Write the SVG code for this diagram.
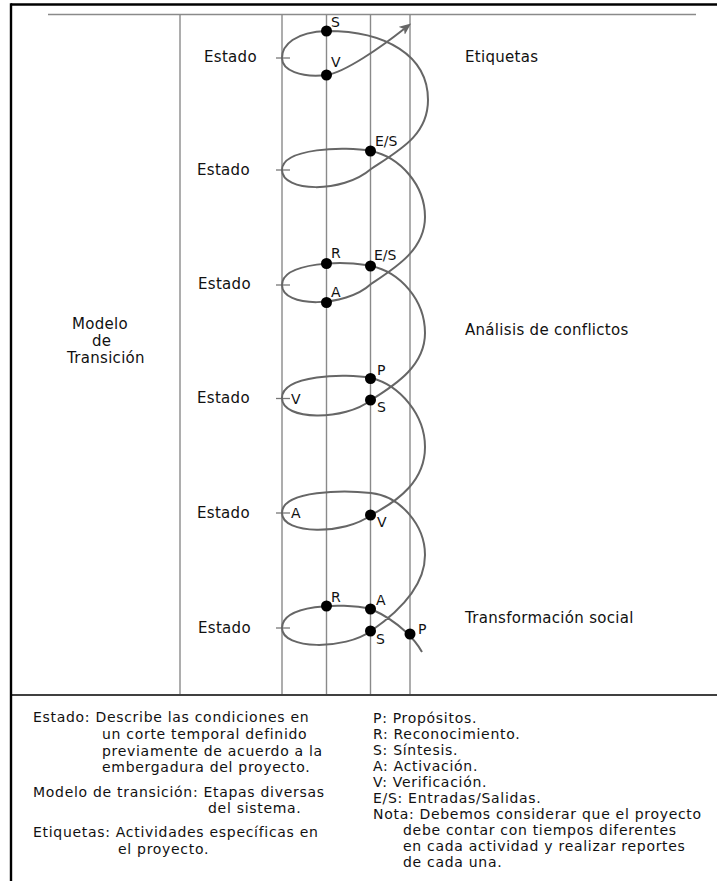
<svg xmlns="http://www.w3.org/2000/svg" width="717" height="881" viewBox="0 0 717 881">
  <style>
    text { font-family: "DejaVu Sans", "Liberation Sans", sans-serif; fill: #111; }
    .lbl { font-size: 15px; letter-spacing: 0.3px; }
    .pt { font-size: 14px; }
    .leg { font-size: 14px; letter-spacing: 0.7px; }
    .frame { stroke: #000; fill: none; }
    .grid { stroke: #8a8a8a; stroke-width: 1.4; fill: none; }
    .tick { stroke: #777; stroke-width: 1.3; }
    .spiral { stroke: #666; stroke-width: 2; fill: none; }
    .dot { fill: #000; }
  </style>
  <defs>
    <marker id="arrow" viewBox="0 0 12 10" refX="3" refY="5" markerWidth="12" markerHeight="10" markerUnits="userSpaceOnUse" orient="auto">
      <path d="M0,0 L12,5 L0,10 L3,5 z" fill="#666"/>
    </marker>
  </defs>

  <rect width="717" height="881" fill="#fff"/>

  <!-- outer frame and legend divider -->
  <g id="frame">
    <line class="frame" x1="11" y1="4.5" x2="717" y2="4.5" stroke-width="2.4"/>
    <line class="frame" x1="11" y1="3.3" x2="11" y2="881" stroke-width="2.4"/>
    <line class="frame" x1="11" y1="695" x2="717" y2="695" stroke-width="1.6"/>
  </g>

  <!-- guide grid -->
  <g id="grid">
    <line class="grid" x1="48" y1="14.5" x2="696" y2="14.5"/>
    <line class="grid" x1="180" y1="14" x2="180" y2="694"/>
    <line class="grid" x1="282" y1="14" x2="282" y2="694"/>
    <line class="grid" x1="326.5" y1="14" x2="326.5" y2="694"/>
    <line class="grid" x1="370.5" y1="14" x2="370.5" y2="694"/>
    <line class="grid" x1="410" y1="14" x2="410" y2="694"/>
  </g>

  <!-- state ticks on the left edge of each loop -->
  <g id="ticks">
    <line class="tick" x1="276" y1="58" x2="290" y2="58"/>
    <line class="tick" x1="276" y1="170" x2="290" y2="170"/>
    <line class="tick" x1="276" y1="285" x2="290" y2="285"/>
    <line class="tick" x1="276" y1="398.5" x2="290" y2="398.5"/>
    <line class="tick" x1="276" y1="513" x2="290" y2="513"/>
    <line class="tick" x1="276" y1="628" x2="290" y2="628"/>
  </g>

  <!-- helix connector, rising from the bottom to the arrow -->
  <g id="connectors">
    <path class="spiral" marker-end="url(#arrow)" d="M 422,652
      C 416,641 400,622 371,609
      C 340,602 282,605 282,628
      C 282,650 345,650 371,631
      C 400,611 425,585 425,555
      C 425,525 400,496 371,493
      C 345,490 282,490 282,513
      C 282,535 345,535 371,515
      C 400,500 425,480 425,447
      C 425,415 400,385 371,378
      C 345,373 282,375 282,398
      C 282,421 345,421 371,400
      C 397,384 425,365 425,333
      C 425,300 400,272 371,266
      C 345,260 282,262 282,285
      C 282,308 345,308 371,284
      C 395,268 425,250 425,217
      C 425,185 400,157 371,151
      C 345,146 282,148 282,170
      C 282,192 342,194 371,169
      C 400,150 428,135 428,100
      C 428,55 385,31 327,31
      C 295,32 282,45 282,58
      C 282,70 300,78 327,75
      C 345,72 380,48 404,29"/>
  </g>

  <!-- state labels -->
  <g id="estados">
    <text class="lbl" x="204" y="62">Estado</text>
    <text class="lbl" x="197" y="175">Estado</text>
    <text class="lbl" x="198" y="289">Estado</text>
    <text class="lbl" x="197" y="403">Estado</text>
    <text class="lbl" x="197" y="518">Estado</text>
    <text class="lbl" x="198" y="633">Estado</text>
  </g>

  <g id="modelo">
    <text class="lbl" x="72" y="329">Modelo</text>
    <text class="lbl" x="92" y="346">de</text>
    <text class="lbl" x="67" y="363">Transición</text>
  </g>

  <g id="etiquetas">
    <text class="lbl" x="465" y="62">Etiquetas</text>
    <text class="lbl" x="465" y="335">Análisis de conflictos</text>
    <text class="lbl" x="465" y="623">Transformación social</text>
  </g>

  <!-- activity points -->
  <g id="p-s1"><circle class="dot" cx="326.5" cy="31" r="5.5"/><text class="pt" x="331" y="27">S</text></g>
  <g id="p-v1"><circle class="dot" cx="326.5" cy="75" r="5.5"/><text class="pt" x="331" y="67">V</text></g>
  <g id="p-es2"><circle class="dot" cx="370.5" cy="151" r="5.5"/><text class="pt" x="375" y="146">E/S</text></g>
  <g id="p-r3"><circle class="dot" cx="326.5" cy="263.5" r="5.5"/><text class="pt" x="331" y="258">R</text></g>
  <g id="p-es3"><circle class="dot" cx="370.5" cy="266" r="5.5"/><text class="pt" x="374" y="260">E/S</text></g>
  <g id="p-a3"><circle class="dot" cx="326.5" cy="302.5" r="5.5"/><text class="pt" x="331" y="297">A</text></g>
  <g id="p-p4"><circle class="dot" cx="370.5" cy="378.5" r="5.5"/><text class="pt" x="377" y="375">P</text></g>
  <g id="p-v4"><text class="pt" x="291" y="403.5">V</text></g>
  <g id="p-s4"><circle class="dot" cx="370.5" cy="400" r="5.5"/><text class="pt" x="377" y="412">S</text></g>
  <g id="p-a5"><text class="pt" x="291" y="518">A</text></g>
  <g id="p-v5"><circle class="dot" cx="370.5" cy="515" r="5.5"/><text class="pt" x="377" y="527">V</text></g>
  <g id="p-r6"><circle class="dot" cx="326.5" cy="606" r="5.5"/><text class="pt" x="331" y="602">R</text></g>
  <g id="p-a6"><circle class="dot" cx="370.5" cy="609" r="5.5"/><text class="pt" x="376" y="604.5">A</text></g>
  <g id="p-s6"><circle class="dot" cx="370.5" cy="631" r="5.5"/><text class="pt" x="376" y="644">S</text></g>
  <g id="p-p6"><circle class="dot" cx="410" cy="634" r="5.5"/><text class="pt" x="418" y="634">P</text></g>

  <!-- legend -->
  <g id="legend-left">
    <text class="leg" x="33" y="722">Estado: Describe las condiciones en</text>
    <text class="leg" x="102" y="739">un corte temporal definido</text>
    <text class="leg" x="102" y="756">previamente de acuerdo a la</text>
    <text class="leg" x="102" y="772">embergadura del proyecto.</text>
    <text class="leg" x="33" y="797">Modelo de transición: Etapas diversas</text>
    <text class="leg" x="208" y="813">del sistema.</text>
    <text class="leg" x="33" y="837">Etiquetas: Actividades específicas en</text>
    <text class="leg" x="118" y="854">el proyecto.</text>
  </g>

  <g id="legend-right">
    <text class="leg" x="373" y="723">P: Propósitos.</text>
    <text class="leg" x="373" y="739">R: Reconocimiento.</text>
    <text class="leg" x="373" y="755">S: Síntesis.</text>
    <text class="leg" x="373" y="771">A: Activación.</text>
    <text class="leg" x="373" y="787">V: Verificación.</text>
    <text class="leg" x="373" y="803">E/S: Entradas/Salidas.</text>
    <text class="leg" x="373" y="819">Nota: Debemos considerar que el proyecto</text>
    <text class="leg" x="403" y="835">debe contar con tiempos diferentes</text>
    <text class="leg" x="403" y="851">en cada actividad y realizar reportes</text>
    <text class="leg" x="403" y="867">de cada una.</text>
  </g>
</svg>
